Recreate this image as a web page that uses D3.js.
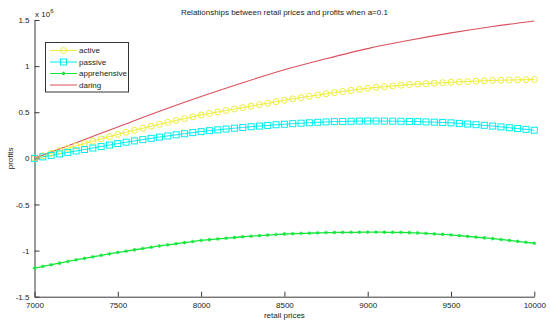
<!DOCTYPE html>
<html>
<head>
<meta charset="utf-8">
<script src="https://cdn.jsdelivr.net/npm/d3@7"></script>
<style>
  html, body { margin: 0; padding: 0; background: #fff; }
  text { font-family: "Liberation Sans", Arial, Helvetica, sans-serif; fill: #222; }
</style>
</head>
<body>
<svg id="chart" width="550" height="325"></svg>
<script>
// ---- data (profits in units of 1e6) ----
const prices = [7000,7050,7100,7150,7200,7250,7300,7350,7400,7450,7500,7550,7600,7650,7700,7750,7800,7850,7900,7950,
  8000,8050,8100,8150,8200,8250,8300,8350,8400,8450,8500,8550,8600,8650,8700,8750,8800,8850,8900,8950,
  9000,9050,9100,9150,9200,9250,9300,9350,9400,9450,9500,9550,9600,9650,9700,9750,9800,9850,9900,9950,10000];
const active = [0,.028,.055,.082,.109,.135,.161,.186,.211,.236,.26,.283,.305,.327,.349,.37,.391,.411,.431,.451,
  .47,.487,.503,.519,.535,.55,.566,.582,.598,.614,.63,.645,.659,.673,.687,.70,.713,.725,.737,.749,
  .76,.769,.777,.785,.793,.80,.805,.81,.815,.82,.825,.829,.833,.837,.841,.845,.847,.849,.851,.853,.855];
const passive = [0,.016,.032,.048,.064,.08,.096,.112,.128,.144,.16,.175,.189,.203,.217,.23,.243,.255,.267,.279,
  .29,.30,.309,.318,.327,.335,.343,.35,.357,.364,.37,.376,.381,.386,.391,.395,.398,.40,.402,.404,
  .405,.405,.404,.403,.402,.40,.398,.395,.392,.389,.385,.379,.372,.365,.358,.35,.341,.332,.323,.314,.305];
const apprehensive = [-1.19,-1.172,-1.154,-1.136,-1.118,-1.10,-1.084,-1.068,-1.052,-1.036,-1.02,-1.006,-.992,-.978,-.964,-.95,-.938,-.926,-.914,-.902,
  -.89,-.882,-.874,-.866,-.858,-.85,-.844,-.838,-.832,-.826,-.82,-.817,-.814,-.811,-.808,-.805,-.804,-.803,-.802,-.801,
  -.80,-.80,-.801,-.802,-.803,-.805,-.809,-.814,-.819,-.824,-.83,-.838,-.846,-.854,-.862,-.87,-.88,-.89,-.90,-.91,-.92];
const daringPrices = [7000,7250,7500,7750,8000,8250,8500,8750,9000,9250,9500,9750,10000];
const daring = [0,.17,.34,.51,.67,.82,.96,1.08,1.19,1.28,1.36,1.43,1.49];
const xTicks = [7000,7500,8000,8500,9000,9500,10000];
const yTicks = [-1.5,-1,-0.5,0,0.5,1,1.5];
const seriesNames = ["active","passive","apprehensive","daring"];
const title = "Relationships between retail prices and profits when a=0.1";

// ---- layout ----
const svg = d3.select("#chart");
const W = 550, H = 325;
const m = {left: 34.5, right: 15.7, top: 20, bottom: 28.3};
const x = d3.scaleLinear().domain([7000, 10000]).range([m.left, W - m.right]);
const y = d3.scaleLinear().domain([-1.5, 1.5]).range([H - m.bottom, m.top]);

const colors = {active: "#eeee3a", passive: "#00eeee", apprehensive: "#14e63c", daring: "#d9505e"};

svg.append("rect").attr("width", W).attr("height", H).attr("fill", "#fff");

// ---- axes ----
const axisColor = "#3a3a3a";
const gx = svg.append("g").attr("transform", `translate(0,${y(-1.5)})`)
  .call(d3.axisBottom(x).tickValues(xTicks).tickFormat(d3.format("d")).tickSizeInner(-5).tickSizeOuter(0).tickPadding(9));
const gy = svg.append("g").attr("transform", `translate(${x(7000)},0)`)
  .call(d3.axisLeft(y).tickValues(yTicks).tickFormat(d => String(d)).tickSizeInner(-5).tickSizeOuter(0).tickPadding(5));
[gx, gy].forEach(g => {
  g.select(".domain").attr("stroke", axisColor);
  g.selectAll(".tick line").attr("stroke", axisColor);
  g.selectAll(".tick text").attr("fill", "#222").style("font-size", "8px")
    .style("font-family", '"Liberation Sans", Arial, sans-serif');
});
gx.selectAll(".tick text").attr("dy", "0.35em");

// ---- lines ----
const lineGen = (xs) => d3.line().x((d, i) => x(xs[i])).y(d => y(d)).curve(d3.curveMonotoneX);
const plot = svg.append("g");

plot.append("path").datum(apprehensive).attr("fill", "none").attr("stroke", colors.apprehensive)
  .attr("stroke-width", 1.3).attr("d", lineGen(prices));
plot.append("path").datum(passive).attr("fill", "none").attr("stroke", colors.passive)
  .attr("stroke-width", 1).attr("d", lineGen(prices));
plot.append("path").datum(active).attr("fill", "none").attr("stroke", colors.active)
  .attr("stroke-width", 1).attr("d", lineGen(prices));
plot.append("path").datum(daring).attr("fill", "none").attr("stroke", colors.daring)
  .attr("stroke-width", 1.1).attr("d", lineGen(daringPrices));

// markers
function star(g, cx, cy, s, color) {
  const p = `M${cx - s},${cy}H${cx + s}M${cx},${cy - s}V${cy + s}M${cx - s*0.7},${cy - s*0.7}L${cx + s*0.7},${cy + s*0.7}M${cx - s*0.7},${cy + s*0.7}L${cx + s*0.7},${cy - s*0.7}`;
  g.append("path").attr("d", p).attr("stroke", color).attr("stroke-width", 1).attr("fill", "none");
}
const gA = plot.append("g");
gA.selectAll("circle").data(active).join("circle")
  .attr("cx", (d, i) => x(prices[i])).attr("cy", d => y(d)).attr("r", 3)
  .attr("fill", "none").attr("stroke", colors.active).attr("stroke-width", 1);
const gP = plot.append("g");
gP.selectAll("rect").data(passive).join("rect")
  .attr("x", (d, i) => x(prices[i]) - 3).attr("y", d => y(d) - 3).attr("width", 6).attr("height", 6)
  .attr("fill", "none").attr("stroke", colors.passive).attr("stroke-width", 1);
const gS = plot.append("g");
apprehensive.forEach((d, i) => star(gS, x(prices[i]), y(d), 1.8, colors.apprehensive));

// ---- texts ----
svg.append("text").attr("x", (x(7000) + x(10000)) / 2).attr("y", 15).attr("text-anchor", "middle")
  .style("font-size", "8px").text(title);
svg.append("text").attr("x", (x(7000) + x(10000)) / 2).attr("y", 318).attr("text-anchor", "middle")
  .style("font-size", "8px").text("retail prices");
svg.append("text").attr("transform", `translate(13,${(y(-1.5) + y(1.5)) / 2}) rotate(-90)`)
  .attr("text-anchor", "middle").style("font-size", "8px").text("profits");
const ex = svg.append("text").attr("x", 35).attr("y", 16.5).style("font-size", "8px");
ex.append("tspan").text("x 10");
ex.append("tspan").attr("dy", -4).style("font-size", "6px").text("6");

// ---- legend ----
const lg = svg.append("g");
lg.append("rect").attr("x", 45.5).attr("y", 42.5).attr("width", 83).attr("height", 49.5)
  .attr("fill", "#fff").attr("stroke", "#333").attr("stroke-width", 1);
const rowsY = [50.5, 62, 73.5, 85];
seriesNames.forEach((name, i) => {
  const yy = rowsY[i];
  lg.append("line").attr("x1", 50).attr("x2", 77).attr("y1", yy).attr("y2", yy)
    .attr("stroke", colors[name]).attr("stroke-width", 1);
  if (name === "active") lg.append("circle").attr("cx", 63.5).attr("cy", yy).attr("r", 3)
    .attr("fill", "none").attr("stroke", colors[name]);
  if (name === "passive") lg.append("rect").attr("x", 60.5).attr("y", yy - 3).attr("width", 6).attr("height", 6)
    .attr("fill", "none").attr("stroke", colors[name]);
  if (name === "apprehensive") star(lg, 63.5, yy, 1.8, colors[name]);
  lg.append("text").attr("x", 79).attr("y", yy).attr("dy", "0.35em").style("font-size", "8px").text(name);
});
</script>
</body>
</html>
